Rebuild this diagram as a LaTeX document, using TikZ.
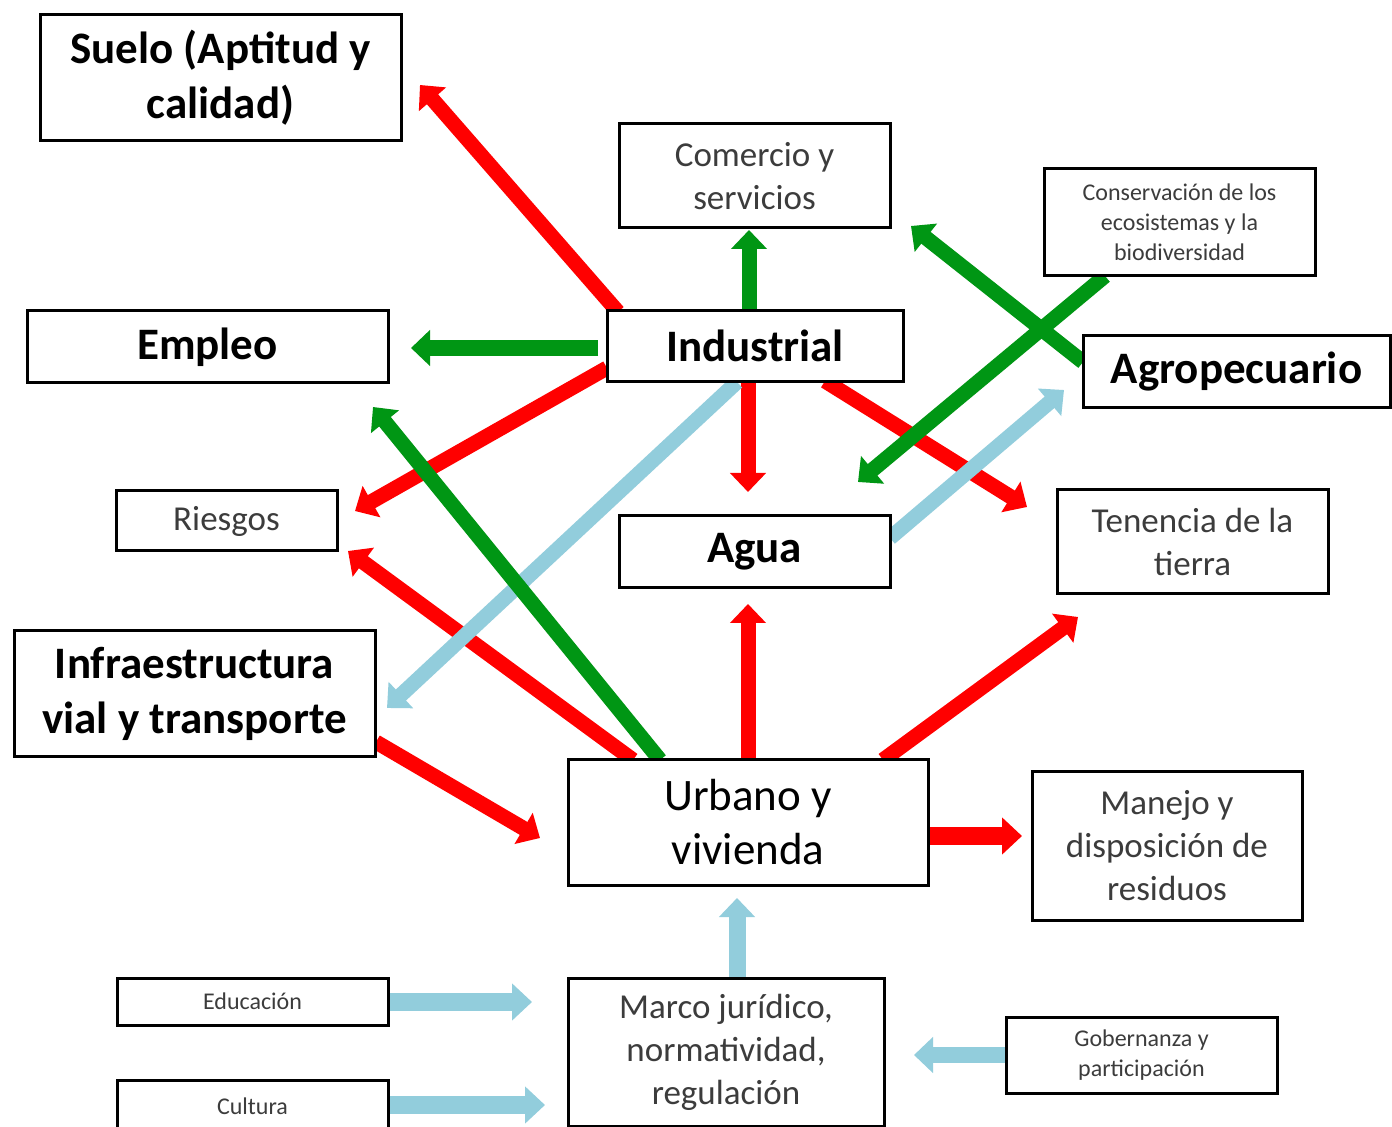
\documentclass[tikz,border=0pt]{standalone}
\usepackage{fontspec}
\setmainfont{Carlito}
\usetikzlibrary{arrows.meta}
\pgfdeclarelayer{back}
\pgfdeclarelayer{bg}
\pgfsetlayers{back,bg,main}
\definecolor{cred}{RGB}{255,0,0}
\definecolor{cgreen}{RGB}{0,150,20}
\definecolor{cblue}{RGB}{146,205,220}
\definecolor{tgray}{RGB}{60,60,60}
\tikzset{
  box/.style={draw, line width=1.5pt, fill=white, inner sep=2pt, align=center, text=black},
  bigbox/.style={box, font=\fontsize{22.5}{27.5}\selectfont\bfseries},
  regbox/.style={box, font=\fontsize{22.5}{27}\selectfont},
  midbox/.style={box, font=\fontsize{17.5}{21.5}\selectfont, text=tgray},
  smallbox/.style={box, font=\fontsize{12}{15}\selectfont, text=tgray},
  arr/.style={line width=7.5pt, -{Triangle[width=17.5pt,length=9.5pt]}},
  fatarr/.style={line width=9pt, -{Triangle[width=18pt,length=10pt]}},
  redarr/.style={arr, draw=cred},
  greenarr/.style={arr, draw=cgreen},
  bluearr/.style={arr, draw=cblue},
}
\begin{document}
\begin{tikzpicture}[x=0.5pt,y=-0.5pt]
\useasboundingbox (0,0) rectangle (1392,1127);
\clip (0,0) rectangle (1392,1127);
\begin{pgfonlayer}{back}
\fill[white] (0,0) rectangle (1392,1127);
\end{pgfonlayer}

% boxes
\node[bigbox, minimum width=180.5pt, minimum height=63pt] (suelo) at (220.5,78) {Suelo (Aptitud y\\calidad)};
\node[midbox, minimum width=135.5pt, minimum height=52pt] (com) at (754.5,176) {Comercio y\\servicios};
\node[smallbox, minimum width=135.5pt, minimum height=53.5pt] (cons) at (1179.5,222.5) {Conservación de los\\ecosistemas y la\\biodiversidad};
\node[bigbox, minimum width=180.5pt, minimum height=36pt] (emp) at (207.5,347) {Empleo};
\node[bigbox, minimum width=148pt, minimum height=35.5pt] (ind) at (755,346) {Industrial};
\node[bigbox, minimum width=153.5pt, minimum height=36pt] (agro) at (1236.5,372) {Agropecuario};
\node[midbox, minimum width=110.5pt, minimum height=30pt] (ries) at (226.5,521) {Riesgos};
\node[bigbox, minimum width=135.5pt, minimum height=36pt] (agua) at (754.5,552) {Agua};
\node[midbox, minimum width=135.5pt, minimum height=52pt] (ten) at (1192.5,542) {Tenencia de la\\tierra};
\node[bigbox, minimum width=180.5pt, minimum height=63pt] (infra) at (194.5,694) {Infraestructura\\vial y transporte};
\node[regbox, minimum width=180pt, minimum height=62.5pt] (urb) at (748,822.5) {Urbano y\\vivienda};
\node[midbox, minimum width=135pt, minimum height=74pt] (man) at (1167,846) {Manejo y\\disposición de\\residuos};
\node[smallbox, minimum width=135.5pt, minimum height=23.5pt] (edu) at (252.5,1001.5) {Educación};
\node[midbox, minimum width=158pt, minimum height=74pt] (marco) at (726,1052) {Marco jurídico,\\normatividad,\\regulación};
\node[smallbox, minimum width=135.5pt, minimum height=38pt] (gob) at (1141.5,1055) {Gobernanza y\\participación};
\node[smallbox, minimum width=135.5pt, minimum height=26pt] (cul) at (252.5,1106) {Cultura};

% arrow end points
\coordinate (r1s) at (618,312);  \coordinate (r1e) at (420,85);
\coordinate (r2s) at (607,368);  \coordinate (r2e) at (355,511);
\coordinate (r3s) at (748,382);  \coordinate (r3e) at (748,492);
\coordinate (r4s) at (825,381);  \coordinate (r4e) at (1027,507);
\coordinate (r5s) at (633,760);  \coordinate (r5e) at (348,551);
\coordinate (r6s) at (748,760);  \coordinate (r6e) at (748,604);
\coordinate (r7s) at (883,760);  \coordinate (r7e) at (1078,617);
\coordinate (r8s) at (376,742);  \coordinate (r8e) at (540,838);
\coordinate (r9s) at (928,836);  \coordinate (r9e) at (1022,836);
\coordinate (g1s) at (749,310);  \coordinate (g1e) at (749,230);
\coordinate (g2s) at (598,348);  \coordinate (g2e) at (411,348);
\coordinate (g3s) at (1083,362); \coordinate (g3e) at (911,226);
\coordinate (g4s) at (1105,276); \coordinate (g4e) at (858,482);
\coordinate (g5s) at (660,760);  \coordinate (g5e) at (373,407);
\coordinate (b1s) at (737,382);  \coordinate (b1e) at (387,708);
\coordinate (b2s) at (890,538);  \coordinate (b2e) at (1064,390);
\coordinate (b3s) at (737,978);  \coordinate (b3e) at (737,898);
\coordinate (b4s) at (388,1002); \coordinate (b4e) at (532,1002);
\coordinate (b5s) at (388,1105); \coordinate (b5e) at (545,1105);
\coordinate (b6s) at (1006,1055); \coordinate (b6e) at (914,1055);

\begin{pgfonlayer}{bg}
\draw[redarr] (r1s) -- (r1e);
\draw[redarr] (r2s) -- (r2e);
\draw[redarr] (r3s) -- (r3e);
\draw[redarr] (r4s) -- (r4e);
\draw[redarr] (r5s) -- (r5e);
\draw[redarr] (r6s) -- (r6e);
\draw[redarr] (r7s) -- (r7e);
\draw[redarr] (r8s) -- (r8e);
\draw[redarr, fatarr, draw=cred] (r9s) -- (r9e);
\draw[bluearr] (b1s) -- (b1e);
\draw[bluearr] (b2s) -- (b2e);
\draw[bluearr, line width=8.5pt] (b3s) -- (b3e);
\draw[bluearr, fatarr, draw=cblue] (b4s) -- (b4e);
\draw[bluearr, fatarr, draw=cblue] (b5s) -- (b5e);
\draw[bluearr, line width=8pt] (b6s) -- (b6e);
\draw[greenarr] (g1s) -- (g1e);
\draw[greenarr, line width=8pt] (g2s) -- (g2e);
\draw[greenarr] (g3s) -- (g3e);
\draw[greenarr] (g4s) -- (g4e);
\draw[greenarr] (g5s) -- (g5e);
\end{pgfonlayer}
\end{tikzpicture}
\end{document}
